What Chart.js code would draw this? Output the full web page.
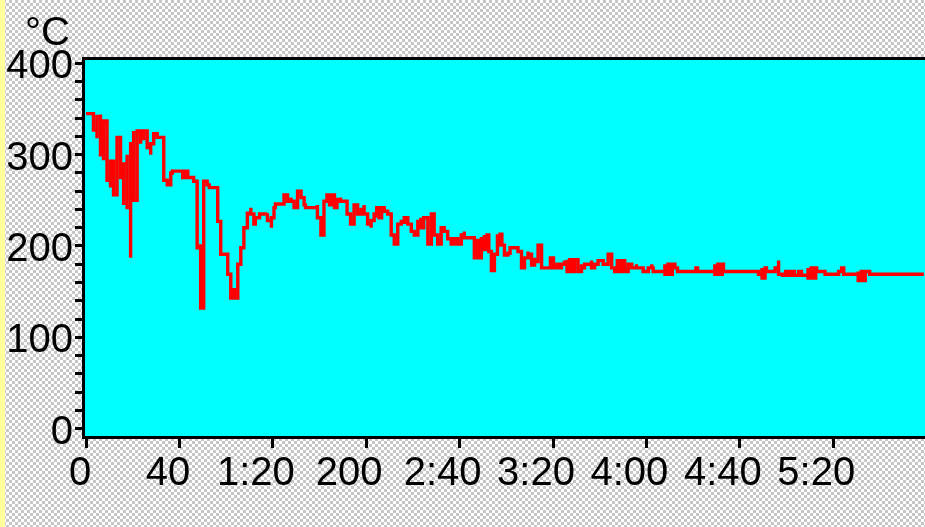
<!DOCTYPE html>
<html>
<head>
<meta charset="utf-8">
<script src="https://cdn.jsdelivr.net/npm/chart.js@4.4.1/dist/chart.umd.min.js"></script>
<style>
  html, body { margin: 0; padding: 0; }
  body {
    width: 925px; height: 527px; overflow: hidden; position: relative;
    background: repeating-conic-gradient(#c6c6c6 0 25%, #ffffff 0 50%) 0 0 / 6px 6px;
  }
  #stripe { position: absolute; left: 0; top: 0; width: 5px; height: 527px; background: #ffff9c; }
  #c { position: absolute; left: 0; top: 0; }
</style>
</head>
<body>
<div id="stripe"></div>
<canvas id="c" width="925" height="527"></canvas>
<script>
// time in seconds
const timeSec = [
  0, 2.6, 3.2, 3.2, 4.7, 4.7, 6.2, 6.2, 7.5, 7.5, 9.0, 9.0, 10.5, 10.5, 11.8, 11.8, 13.3, 13.3, 14.8, 14.8,
  16.1, 16.1, 17.6, 17.6, 19.1, 19.1, 20.4, 20.4, 21.9, 21.9, 23.4, 23.4, 24.7, 24.7, 26.2, 26.2, 27.7, 27.7,
  29.0, 29.0, 30.5, 32.2, 33.3, 33.3, 34.8, 34.8, 36.3, 36.3, 37.0, 39.5, 40.6, 41.4, 42.5, 43.6, 44.9,
  46.1, 46.1, 47.6, 47.6, 49.1, 49.1, 50.4, 50.4, 51.9, 52.8, 55.8, 56.4, 56.4, 57.7, 57.7, 58.4, 60.1,
  60.7, 60.7, 62.0, 62.0, 63.1, 64.4, 65.0, 66.3, 66.3, 67.6, 67.6, 69.1, 69.1, 70.6, 70.6, 71.9, 71.9,
  72.5, 74.2, 74.3, 76.8, 77.7, 77.7, 79.4, 79.4, 80.5, 80.5, 81.1, 84.1, 84.8, 84.8, 86.3, 87.8, 87.8,
  89.1, 89.1, 90.6, 90.6, 92.1, 92.1, 93.4, 93.4, 94.0, 98.3, 99.1, 99.1, 100.6, 100.6, 101.9, 101.9,
  103.2, 104.3, 105.4, 106.4, 107.5, 109.0, 109.0, 110.5, 111.8, 111.8, 113.3, 113.3, 114.8, 114.8, 116.3,
  117.8, 117.8, 119.1, 119.1, 120.6, 120.6, 122.1, 122.1, 123.4, 123.4, 124.5, 124.5, 125.5, 126.6, 127.7,
  129.2, 130.7, 130.7, 132.0, 132.0, 133.5, 133.5, 135.0, 136.3, 136.3, 137.8, 137.8, 139.3, 139.3, 140.6,
  140.6, 142.1, 142.1, 143.4, 143.4, 144.6, 146.4, 146.4, 147.9, 147.9, 149.1, 149.1, 150.6, 150.6, 152.1,
  152.1, 153.4, 153.4, 154.9, 154.9, 156.4, 156.4, 157.7, 157.7, 159.2, 159.2, 160.7, 160.7, 162.0, 162.0,
  163.0, 165.7, 166.3, 166.3, 167.4, 168.2, 169.3, 170.6, 170.6, 171.7, 172.5, 173.6, 173.6, 174.9, 174.9,
  176.2, 176.2, 177.3, 178.1, 179.2, 179.2, 180.7, 181.6, 184.2, 185.0, 186.5, 186.5, 187.8, 189.3, 189.3,
  190.8, 190.8, 192.1, 192.1, 193.6, 193.6, 195.1, 195.1, 195.7, 198.3, 198.9, 198.9, 200.2, 200.2, 201.7,
  202.6, 203.6, 204.9, 204.9, 206.0, 206.0, 207.1, 208.2, 209.2, 210.7, 212.2, 212.2, 213.5, 215.0, 216.5,
  216.5, 217.8, 219.3, 221.5, 223.6, 223.6, 225.1, 225.1, 226.4, 227.5, 228.6, 229.7, 230.7, 232.2, 233.7,
  235.7, 235.7, 238.6, 240.8, 242.3, 242.3, 242.9, 247.2, 247.9, 247.9, 249.2, 250.4, 251.1, 252.2, 253.3,
  260.6, 261.2, 261.9, 269.0, 269.3, 269.3, 270.6, 271.9, 272.5, 273.0, 287.1, 288.0, 289.5, 289.5, 290.8,
  291.4, 294.4, 295.1, 296.6, 296.6, 298.3, 299.6, 300.9, 302.2, 303.4, 305.2, 306.4, 308.5, 309.2, 309.2,
  310.5, 311.8, 312.5, 312.9, 315.9, 316.5, 321.5, 322.3, 323.6, 324.5, 330.1, 330.7, 330.7, 332.0, 332.6,
  333.7, 335.0, 335.6, 358.8
];
// temperature in °C
const tempC = [
  345, 345, 344, 327, 318, 342, 344, 300, 294, 337, 315, 272, 264, 293, 282, 256, 264, 319, 308, 275,
  245, 290, 300, 242, 187, 312, 326, 250, 316, 326, 312, 326, 316, 326, 319, 308, 300, 312,
  316, 323, 319, 319, 315, 272, 271, 267, 275, 280, 282, 282, 282, 275, 282, 275, 275,
  275, 271, 267, 198, 202, 132, 205, 271, 267, 264, 264, 264, 227, 225, 191, 191, 191,
  191, 169, 165, 143, 152, 143, 180, 183, 198, 202, 220, 225, 236, 242, 235, 231, 224,
  231, 231, 235, 235, 236, 228, 220, 231, 235, 242, 246, 246, 247, 256, 249, 253, 249,
  249, 242, 253, 260, 256, 253, 249, 245, 242, 242, 245, 231, 231, 212, 235, 249,
  256, 245, 256, 242, 251, 253, 249, 249, 245, 235, 235, 224, 235, 245, 235,
  242, 235, 245, 235, 231, 224, 220, 228, 231, 235, 231, 242, 231, 242, 238,
  235, 231, 212, 212, 202, 216, 224, 227, 224, 231, 227, 224, 220, 216, 216,
  212, 224, 227, 231, 220, 231, 231, 202, 220, 235, 227, 212, 209, 202, 212,
  220, 220, 216, 212, 208, 208, 202, 205, 208, 205, 202, 208, 212, 216, 209,
  209, 209, 206, 187, 206, 187, 208, 212, 196, 212, 194, 193, 173, 180, 191,
  213, 201, 213, 201, 192, 190, 192, 198, 198, 194, 187, 176, 187, 194, 191,
  185, 179, 187, 183, 191, 201, 191, 176, 176, 176, 180, 187, 180, 176, 180,
  176, 180, 184, 180, 185, 172, 185, 172, 185, 172, 180, 176, 180, 180, 184,
  176, 180, 184, 180, 180, 191, 184, 176, 172, 184, 172, 184, 172, 180, 176,
  180, 176, 172, 176, 180, 176, 172, 172, 180, 169, 180, 169, 180, 176, 172,
  172, 176, 172, 172, 180, 169, 180, 169, 180, 172, 172, 169, 176, 165, 176,
  172, 172, 176, 184, 169, 168, 172, 168, 172, 168, 172, 168, 168, 176, 165,
  176, 165, 176, 172, 172, 169, 169, 172, 176, 169, 169, 172, 162, 172, 162,
  172, 172, 169, 169
];
const xTickValues = [0, 40, 80, 120, 160, 200, 240, 280, 320];
const xTickLabels = ['0', '40', '1:20', '200', '2:40', '3:20', '4:00', '4:40', '5:20'];
const yTickLabels = ['0', '100', '200', '300', '400'];
const unitLabel = '°C';

const points = timeSec.map((t, i) => ({ x: t, y: tempC[i] }));
const FONT = "'Liberation Sans', Arial, sans-serif";

const framePlugin = {
  id: 'frame',
  beforeDatasetsDraw(chart) {
    const a = chart.chartArea, ctx = chart.ctx;
    ctx.save();
    ctx.fillStyle = '#00ffff';
    ctx.fillRect(a.left, a.top, a.right - a.left, a.bottom - a.top);
    ctx.restore();
  },
  afterDatasetsDraw(chart) {
    const a = chart.chartArea, ctx = chart.ctx;
    ctx.save();
    ctx.strokeStyle = '#000';
    ctx.lineWidth = 3;
    ctx.beginPath();
    ctx.moveTo(a.left - 3, a.top - 1.5); ctx.lineTo(a.right, a.top - 1.5);
    ctx.moveTo(a.left - 1.5, a.top - 3); ctx.lineTo(a.left - 1.5, a.bottom + 3);
    ctx.moveTo(a.left - 3, a.bottom + 1.5); ctx.lineTo(a.right, a.bottom + 1.5);
    ctx.stroke();
    ctx.fillStyle = '#000';
    ctx.font = '40px ' + FONT;
    ctx.textBaseline = 'alphabetic';
    ctx.textAlign = 'left';
    ctx.fillText(unitLabel, 25, 45);
    ctx.restore();
  }
};

new Chart(document.getElementById('c'), {
  type: 'line',
  data: {
    datasets: [{
      data: points,
      borderColor: '#ff0000',
      borderWidth: 3.4,
      borderJoinStyle: 'miter',
      stepped: 'before',
      pointRadius: 0,
      tension: 0,
      fill: false
    }]
  },
  options: {
    responsive: false,
    animation: false,
    devicePixelRatio: 1,
    layout: { padding: { left: 0, top: 60, right: 0, bottom: 0 } },
    plugins: { legend: { display: false }, tooltip: { enabled: false } },
    scales: {
      x: {
        type: 'linear',
        min: -0.43, max: 359.3,
        afterFit: s => { s.height = 91; },
        afterBuildTicks: s => { s.ticks = xTickValues.map(v => ({ value: v })); },
        border: { display: false },
        grid: { drawOnChartArea: false, drawTicks: true, tickLength: 12, tickWidth: 3, tickColor: '#000' },
        ticks: {
          autoSkip: false, maxRotation: 0, minRotation: 0,
          color: '#000', font: { family: FONT, size: 40 }, padding: 2, labelOffset: -17,
          callback: v => {
            const i = xTickValues.indexOf(Math.round(v));
            const s = xTickLabels[i] || '';
            return i === 0 ? '  ' + s : (i === 1 ? ' ' + s : s);
          }
        }
      },
      y: {
        min: -8.2, max: 403.8,
        afterFit: s => { s.width = 85; },
        border: { display: false },
        grid: { drawOnChartArea: false, drawTicks: true, tickLength: 10, tickWidth: 3, tickColor: '#000' },
        ticks: {
          stepSize: 20, includeBounds: false, autoSkip: false,
          color: '#000', font: { family: FONT, size: 40 }, padding: 2, labelOffset: 4,
          callback: v => (Math.round(v) % 100 === 0 ? yTickLabels[Math.round(v) / 100] : '')
        }
      }
    }
  },
  plugins: [framePlugin]
});
</script>
</body>
</html>
